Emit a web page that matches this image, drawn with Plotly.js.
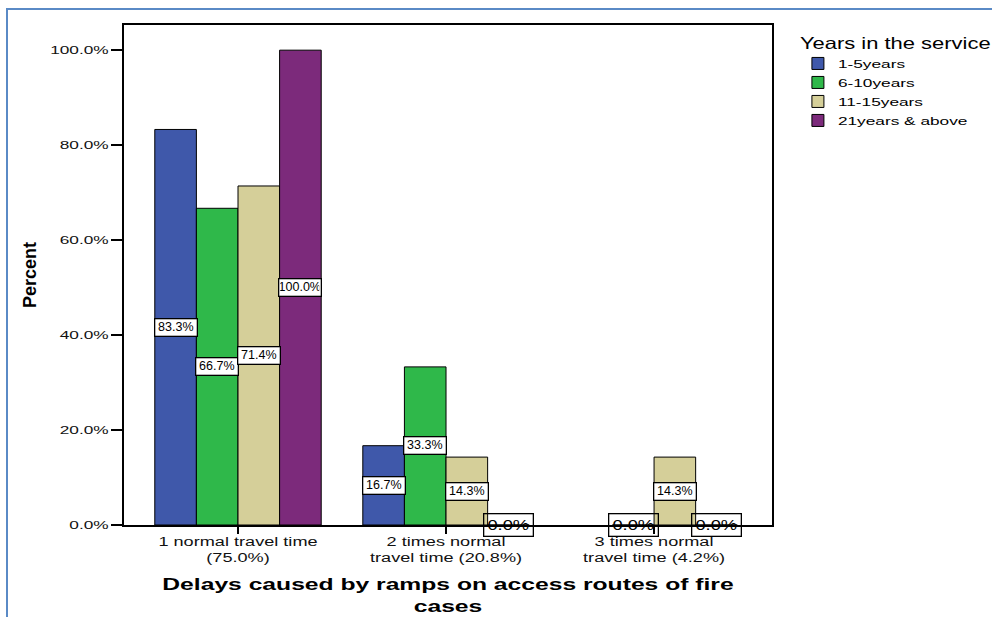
<!DOCTYPE html>
<html>
<head>
<meta charset="utf-8">
<script src="https://cdn.plot.ly/plotly-3.0.1.min.js"></script>
<style>
  html, body { margin: 0; padding: 0; background: #fff; }
  #frame { position: absolute; left: 6px; top: 8px; width: 1000px; height: 620px;
           border-left: 2px solid #5a8ac6; border-top: 2px solid #5a8ac6; pointer-events: none; }
  #chart { width: 992px; height: 617px; }
</style>
</head>
<body>
<div id="chart"></div>
<div id="frame"></div>
<script>
// Delay categories on the x axis
const categories = [
  "1 normal travel time<br>(75.0%)",
  "2 times normal<br>travel time (20.8%)",
  "3 times normal<br>travel time (4.2%)"
];

// Percent of each service-length group per delay category
const years1to5   = [83.3, 16.7, null];
const years6to10  = [66.7, 33.3, 0];
const years11to15 = [71.4, 14.3, 14.3];
const years21plus = [100.0, 0, 0];

const seriesNames  = ["1-5years", "6-10years", "11-15years", "21years & above"];
const seriesValues = [years1to5, years6to10, years11to15, years21plus];
const seriesColors = ["#3f58aa", "#2fb84a", "#d5cf99", "#7c2a7b"];

const yTicks = [0, 20, 40, 60, 80, 100];

const FONT = "Arial, 'Liberation Sans', sans-serif";
const NARROW = "'Liberation Sans Narrow', 'Arial Narrow', Arial, sans-serif";

const traces = seriesNames.map((name, i) => ({
  type: "bar",
  name: name,
  x: categories.map((_, k) => k),
  y: seriesValues[i],
  marker: { color: seriesColors[i], line: { color: "#000", width: 1 } },
  hoverinfo: "skip"
}));

// Boxed value labels at the middle of each bar
const nSeries = seriesNames.length;
const slot = 0.8 / nSeries;
const annotations = [];
const zeroLabelIdx = [];
seriesValues.forEach((vals, i) => {
  const offset = -0.4 + slot * (i + 0.5);
  vals.forEach((v, k) => {
    if (v === null) return;
    const zero = v === 0;
    if (zero) zeroLabelIdx.push(annotations.length);
    annotations.push({
      x: k + offset, y: v / 2, xref: "x", yref: "y",
      text: v.toFixed(1) + "%",
      showarrow: false,
      font: { family: zero ? FONT : NARROW, size: zero ? 15 : 12.5, color: "#000" },
      bgcolor: zero ? "rgba(0,0,0,0)" : "#fff",
      bordercolor: "#000", borderwidth: 1.3, borderpad: zero ? 2 : 1,
      width: zero ? 44 : 39
    });
  });
});

const layout = {
  width: 992, height: 617,
  margin: { l: 124, r: 220, t: 25, b: 92 },
  paper_bgcolor: "#fff", plot_bgcolor: "#fff",
  font: { family: FONT, color: "#000" },
  barmode: "group", bargap: 0.2, bargroupgap: 0,
  xaxis: {
    type: "linear",
    range: [-0.548, 2.567],
    tickvals: categories.map((_, k) => k),
    ticktext: categories,
    ticks: "outside", ticklen: 7, tickwidth: 1.5, tickcolor: "#000",
    ticklabelstandoff: -3,
    showline: true, linecolor: "#000", linewidth: 2, mirror: true,
    showgrid: false, zeroline: false,
    tickfont: { family: FONT, size: 12.5, color: "#111" },
    title: {
      text: "<b>Delays caused by ramps on access routes of fire<br>cases</b>",
      font: { family: FONT, size: 17, color: "#000" },
      standoff: 14
    }
  },
  yaxis: {
    range: [0, 105.3],
    tickvals: yTicks,
    ticktext: yTicks.map(t => t.toFixed(1) + "%"),
    ticks: "outside", ticklen: 11, tickwidth: 1.5, tickcolor: "#000",
    showline: true, linecolor: "#000", linewidth: 2, mirror: true,
    showgrid: false, zeroline: false,
    tickfont: { family: FONT, size: 11.5, color: "#111" },
    title: {
      text: "<b>Percent</b>",
      font: { family: FONT, size: 18, color: "#000" },
      standoff: 28
    }
  },
  legend: {
    x: 1.04, xanchor: "left", y: 0.995, yanchor: "top",
    title: { text: "Years in the service", font: { family: FONT, size: 16.5, color: "#000" } },
    font: { family: FONT, size: 11.5, color: "#000" },
    bgcolor: "rgba(0,0,0,0)", tracegroupgap: 0
  },
  annotations: annotations,
  showlegend: true
};

// Widen glyphs horizontally (SVG textLength) for the broad label lettering
function widen(nodes, factor) {
  nodes.forEach(el => {
    const lines = el.querySelectorAll("tspan.line");
    const targets = lines.length ? Array.from(lines) : [el];
    targets.forEach(t => {
      const len = t.getComputedTextLength();
      if (!len) return;
      t.setAttribute("lengthAdjust", "spacingAndGlyphs");
      t.setAttribute("textLength", (len * factor).toFixed(2));
    });
  });
}

Plotly.newPlot("chart", traces, layout, { displayModeBar: false, staticPlot: true }).then(gd => {
  const q = sel => Array.from(gd.querySelectorAll(sel));
  widen(q(".ytick text"), 1.5);
  widen(q(".xtick text"), 1.45);
  widen(q(".legendtext"), 1.5);
  widen(q(".legendtitletext"), 1.33);
  widen(q(".g-xtitle text"), 1.45);
  zeroLabelIdx.forEach(i => widen(q('.annotation[data-index="' + i + '"] .annotation-text'), 1.22));
  // the widened legend text must not be cut by the legend's own clip box
  q(".legend .scrollbox, .legend").forEach(el => el.removeAttribute("clip-path"));
});
</script>
</body>
</html>
